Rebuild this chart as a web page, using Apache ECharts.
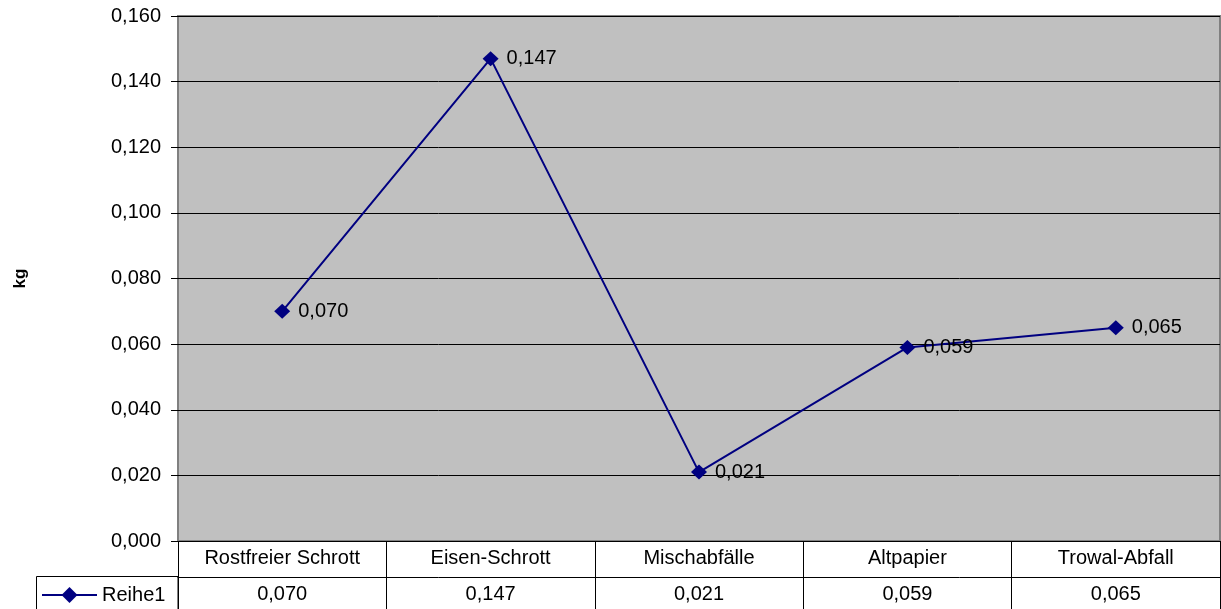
<!DOCTYPE html>
<html>
<head>
<meta charset="utf-8">
<style>
  html, body { margin: 0; padding: 0; background: #ffffff; }
  #chart { width: 1221px; height: 609px; }
</style>
<script src="https://cdn.jsdelivr.net/npm/echarts@6/dist/echarts.min.js"></script>
</head>
<body>
<div id="chart"></div>
<script>
// Abfallmengen je Kategorie (kg)
const categories = ['Rostfreier Schrott', 'Eisen-Schrott', 'Mischabfälle', 'Altpapier', 'Trowal-Abfall'];
const reihe1 = [0.070, 0.147, 0.021, 0.059, 0.065];
const yTicks = [0, 0.02, 0.04, 0.06, 0.08, 0.10, 0.12, 0.14, 0.16];

const FONT = '"Liberation Sans", Arial, sans-serif';
const FS = 20;
const fmt = v => Number(v).toFixed(3).replace('.', ',');

const chart = echarts.init(document.getElementById('chart'), null, { renderer: 'canvas' });

chart.setOption({
  animation: false,
  textStyle: { fontFamily: FONT, color: '#000' },
  grid: {
    left: 178, top: 16, right: 1, bottom: 68,
    show: true,
    backgroundColor: '#C0C0C0',
    borderColor: '#808080',
    borderWidth: 2
  },
  legend: {
    left: 41, top: 585,
    padding: 0,
    itemWidth: 55, itemHeight: 20, itemGap: 0,
    lineStyle: { width: 2 },
    textStyle: { fontFamily: FONT, fontSize: FS, color: '#000' },
    data: ['Reihe1']
  },
  xAxis: [
    {
      type: 'category',
      data: categories,
      boundaryGap: true,
      axisLine: { show: true, lineStyle: { color: '#000', width: 1 } },
      axisTick: { show: true, interval: 0, length: 36, lineStyle: { color: '#000', width: 1 } },
      axisLabel: { interval: 0, margin: 7, fontSize: FS, color: '#000', fontFamily: FONT },
      splitLine: { show: false }
    },
    {
      type: 'category',
      data: categories,
      position: 'bottom',
      offset: 36,
      boundaryGap: true,
      axisLine: { show: true, lineStyle: { color: '#000', width: 1 } },
      axisTick: { show: true, interval: 0, length: 40, lineStyle: { color: '#000', width: 1 } },
      axisLabel: {
        interval: 0, margin: 7, fontSize: FS, color: '#000', fontFamily: FONT,
        formatter: (v, i) => fmt(reihe1[i])
      },
      splitLine: { show: false }
    }
  ],
  yAxis: {
    type: 'value',
    min: yTicks[0],
    max: yTicks[yTicks.length - 1],
    interval: 0.02,
    name: 'kg',
    nameLocation: 'middle',
    nameRotate: 90,
    nameGap: 149,
    nameTextStyle: { fontFamily: FONT, fontSize: 17, fontWeight: 'bold', color: '#000' },
    axisLine: { show: false },
    axisTick: { show: true, length: 7, lineStyle: { color: '#000', width: 1 } },
    axisLabel: { margin: 17, fontSize: FS, color: '#000', fontFamily: FONT, formatter: v => fmt(v) },
    splitLine: { show: true, lineStyle: { color: '#000', width: 1 } }
  },
  graphic: [
    {
      type: 'rect',
      shape: { x: 36.5, y: 576.5, width: 141.5, height: 40 },
      style: { fill: 'none', stroke: '#000', lineWidth: 1 },
      z: 10
    }
  ],
  series: [
    {
      name: 'Reihe1',
      type: 'line',
      xAxisIndex: 0,
      data: reihe1,
      symbol: 'diamond',
      symbolSize: [16, 15],
      lineStyle: { color: '#000080', width: 2 },
      itemStyle: { color: '#000080' },
      label: {
        show: true,
        position: 'right',
        distance: 8,
        fontSize: FS,
        color: '#000',
        fontFamily: FONT,
        formatter: p => fmt(p.value)
      }
    }
  ]
});
</script>
</body>
</html>
